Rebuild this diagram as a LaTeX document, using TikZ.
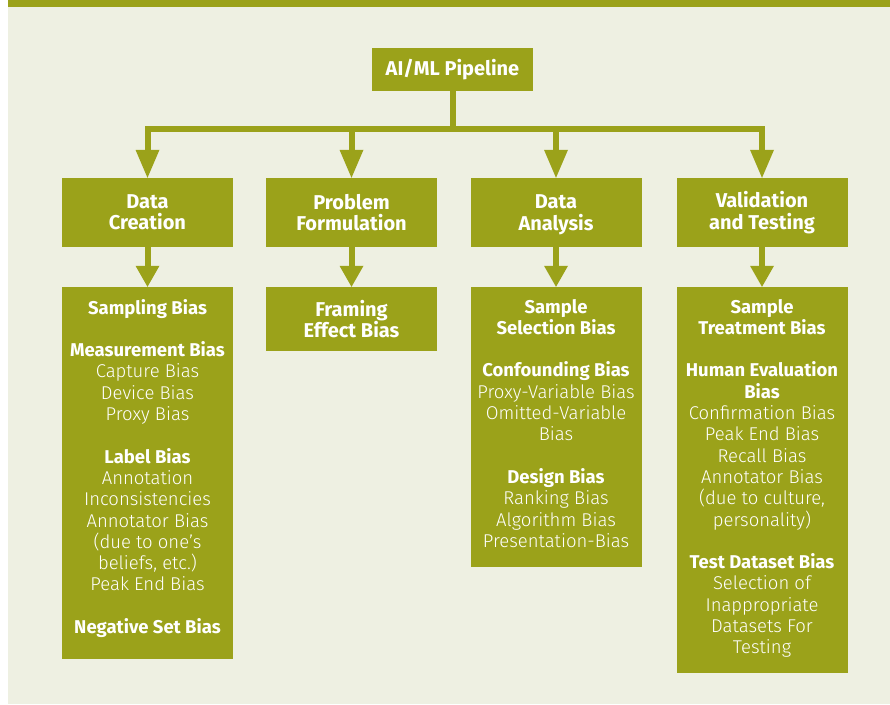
\documentclass[tikz,border=0pt]{standalone}
\usepackage{fontspec}
\setmainfont{Fira Sans}[UprightFont=* Light, BoldFont=* Bold]
\usetikzlibrary{arrows.meta}
\definecolor{leaf}{RGB}{155,162,26}
\definecolor{paper}{RGB}{238,240,226}
\newcommand{\gap}{\\[21.3pt]}
\begin{document}
\begin{tikzpicture}[x=1pt,y=-1pt,
  box/.style={fill=leaf, draw=none, inner sep=0pt, text=white, align=center,
    font=\fontsize{20}{21.3}\selectfont\bfseries},
  list/.style={text=white, align=center, inner sep=0pt, anchor=north,
    font=\fontsize{18.5}{21.3}\selectfont},
  link/.style={draw=leaf, line width=6pt},
  tiptop/.style={-{Triangle[width=24pt,length=28pt,line width=0pt]}},
  tiplow/.style={-{Triangle[width=24pt,length=21pt,line width=0pt]}},
]
\useasboundingbox (0,0) rectangle (890,704);
% page ground, header strip and panel
\fill[white] (0,0) rectangle (890,704);
\fill[paper] (8,7) rectangle (890,704);
\fill[leaf] (8,0) rectangle (890,7);

% root
\node[box, minimum width=161pt, minimum height=43pt] (ai) at (452.5,69.5) {AI/ML Pipeline};

% pipeline stages
\node[box, minimum width=171pt, minimum height=69pt] (dc) at (147.5,212.5) {Data\\Creation};
\node[box, minimum width=171pt, minimum height=69pt] (pf) at (351.5,212.5) {Problem\\Formulation};
\node[box, minimum width=171pt, minimum height=69pt, text depth=0pt] (da) at (556,212.5) {Data\\Analysis};
\node[box, minimum width=171pt, minimum height=69pt] (vt) at (762,212.5) {Validation\\and Testing};

% bias panels
\node[box, minimum width=171pt, minimum height=372pt] (dcb) at (147.5,473) {};
\node[box, minimum width=171pt, minimum height=64pt] (pfb) at (351.5,319) {Framing\\Effect Bias};
\node[box, minimum width=171pt, minimum height=280pt] (dab) at (556,427) {};
\node[box, minimum width=171pt, minimum height=386pt] (vtb) at (762,480) {};

\node[list] (dct) at ([yshift=-12pt]dcb.north) {\textbf{Sampling Bias}\gap
  \textbf{Measurement Bias}\\ Capture Bias\\ Device Bias\\ Proxy Bias\gap
  \textbf{Label Bias}\\ Annotation\\ Inconsistencies\\ Annotator Bias\\
  (due to one’s\\ beliefs, etc.)\\ Peak End Bias\gap
  \textbf{Negative Set Bias}};
\node[list] (dat) at ([yshift=-12pt]dab.north) {\textbf{Sample}\\ \textbf{Selection Bias}\gap
  \textbf{Confounding Bias}\\ Proxy-Variable Bias\\ Omitted-Variable\\ Bias\gap
  \textbf{Design Bias}\\ Ranking Bias\\ Algorithm Bias\\ Presentation-Bias};
\node[list] (vtt) at ([yshift=-12pt]vtb.north) {\textbf{Sample}\\ \textbf{Treatment Bias}\gap
  \textbf{Human Evaluation}\\ \textbf{Bias}\\ Confirmation Bias\\ Peak End Bias\\
  Recall Bias\\ Annotator Bias\\ (due to culture,\\ personality)\gap
  \textbf{Test Dataset Bias}\\ Selection of\\ Inappropriate\\ Datasets For\\ Testing};

% connectors
\foreach \s in {dc,pf,da,vt}
  \draw[link, tiptop] (ai.south) -- ++(0,38) -| (\s.north);
\draw[link, tiplow] (dc.south) -- (dcb.north);
\draw[link, tiplow] (pf.south) -- (pfb.north);
\draw[link, tiplow] (da.south) -- (dab.north);
\draw[link, tiplow] (vt.south) -- (vtb.north);
\end{tikzpicture}
\end{document}
